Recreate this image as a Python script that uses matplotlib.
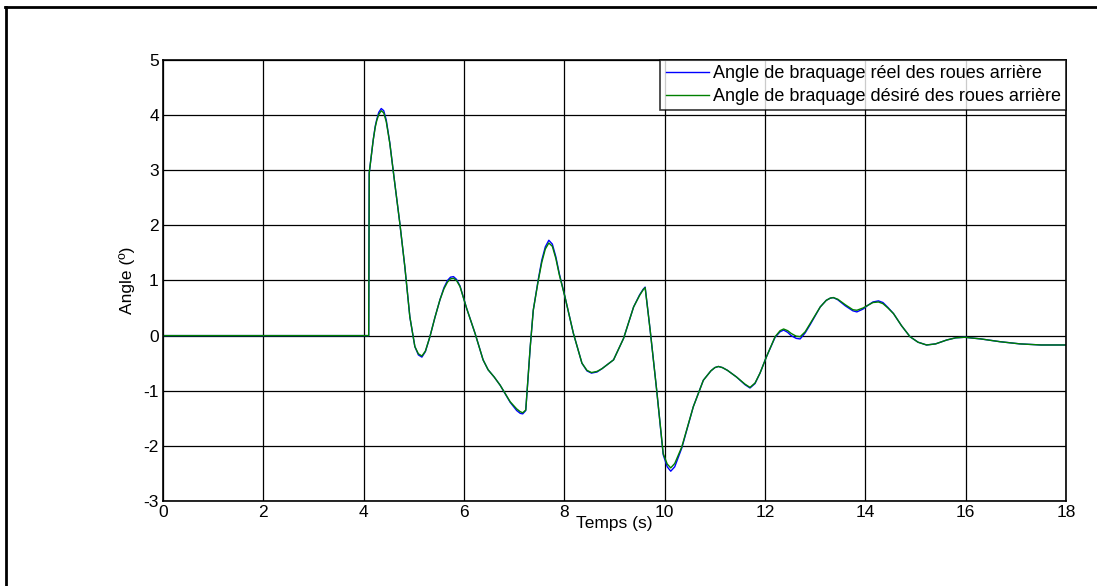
import numpy as np
import matplotlib
matplotlib.use('Agg')
import matplotlib.pyplot as plt
from matplotlib.lines import Line2D

# temps (s) et angles
t = [0, 4.10, 4.11, 4.15, 4.19, 4.23, 4.26, 4.30, 4.35, 4.40, 4.45, 4.52, 4.62, 4.72, 4.82,
     4.92, 5.02, 5.09, 5.16, 5.23, 5.32, 5.42, 5.52, 5.60, 5.67, 5.73, 5.79, 5.85, 5.92,
     6.05, 6.22, 6.38, 6.48, 6.60, 6.72, 6.92, 7.05, 7.12, 7.17, 7.23, 7.32, 7.38, 7.48,
     7.55, 7.62, 7.69, 7.76, 7.83, 7.90, 8.01, 8.18, 8.35, 8.45, 8.54, 8.65, 8.75, 8.98,
     9.18, 9.38, 9.50, 9.57, 9.61, 9.71, 9.84, 9.97, 10.05, 10.12, 10.20, 10.34, 10.57,
     10.77, 10.92, 11.00, 11.07, 11.15, 11.25, 11.43, 11.60, 11.70, 11.80, 11.90, 12.03,
     12.20, 12.30, 12.37, 12.45, 12.52, 12.62, 12.70, 12.80, 12.90, 13.10, 13.22, 13.30,
     13.36, 13.45, 13.60, 13.75, 13.83, 13.95, 14.05, 14.15, 14.26, 14.35, 14.45, 14.56,
     14.72, 14.89, 15.05, 15.22, 15.40, 15.62, 15.80, 15.98, 16.30, 16.68, 17.08, 17.50,
     18.0]

desire = [0, 0, 2.95, 3.25, 3.55, 3.78, 3.90, 4.01, 4.08, 4.04, 3.88, 3.49, 2.76, 2.04,
          1.25, 0.34, -0.20, -0.33, -0.37, -0.28, -0.02, 0.33, 0.65, 0.85, 0.97, 1.03, 1.04,
          1.00, 0.89, 0.50, 0.04, -0.44, -0.62, -0.75, -0.90, -1.20, -1.33, -1.38, -1.40,
          -1.35, -0.20, 0.46, 1.00, 1.33, 1.57, 1.68, 1.62, 1.40, 1.10, 0.71, 0.04, -0.50,
          -0.63, -0.67, -0.65, -0.60, -0.44, -0.05, 0.52, 0.73, 0.83, 0.87, 0.10, -0.99,
          -2.14, -2.33, -2.40, -2.32, -2.02, -1.29, -0.81, -0.64, -0.58, -0.56, -0.58, -0.63,
          -0.75, -0.88, -0.94, -0.86, -0.68, -0.38, -0.02, 0.09, 0.12, 0.09, 0.04, -0.01,
          -0.02, 0.07, 0.22, 0.52, 0.64, 0.68, 0.69, 0.66, 0.56, 0.47, 0.46, 0.50, 0.55,
          0.60, 0.61, 0.58, 0.50, 0.40, 0.18, -0.02, -0.12, -0.17, -0.15, -0.08, -0.04, -0.03,
          -0.06, -0.11, -0.15, -0.17, -0.17]

reel = [0, 0, 2.95, 3.25, 3.55, 3.80, 3.92, 4.05, 4.12, 4.08, 3.91, 3.50, 2.76, 2.04,
        1.25, 0.34, -0.20, -0.35, -0.39, -0.29, -0.02, 0.33, 0.65, 0.87, 1.00, 1.06, 1.07,
        1.02, 0.90, 0.50, 0.04, -0.44, -0.62, -0.75, -0.90, -1.21, -1.36, -1.41, -1.42,
        -1.36, -0.20, 0.46, 1.02, 1.37, 1.61, 1.73, 1.66, 1.43, 1.12, 0.71, 0.04, -0.50,
        -0.64, -0.68, -0.66, -0.60, -0.44, -0.05, 0.52, 0.74, 0.84, 0.88, 0.10, -0.99,
        -2.16, -2.38, -2.46, -2.38, -2.04, -1.29, -0.81, -0.64, -0.58, -0.56, -0.58, -0.63,
        -0.75, -0.89, -0.95, -0.87, -0.68, -0.38, -0.03, 0.07, 0.10, 0.06, 0.00, -0.05,
        -0.06, 0.05, 0.20, 0.52, 0.64, 0.68, 0.69, 0.65, 0.54, 0.45, 0.43, 0.48, 0.55,
        0.61, 0.63, 0.60, 0.51, 0.40, 0.18, -0.02, -0.12, -0.17, -0.15, -0.08, -0.04, -0.03,
        -0.06, -0.11, -0.15, -0.17, -0.17]

plt.rcParams['font.family'] = ['Liberation Sans', 'DejaVu Sans']
plt.rcParams['axes.unicode_minus'] = False

fig = plt.figure(figsize=(10.97, 5.86), dpi=100)
ax = fig.add_axes([0.1486, 0.1451, 0.8232, 0.7525])

ax.plot(t, reel, color='#0000ff', lw=1.0, label='Angle de braquage réel des roues arrière')
ax.plot(t, desire, color='#008000', lw=1.0, label='Angle de braquage désiré des roues arrière')

ax.set_xlim(0, 18)
ax.set_ylim(-3, 5)
ax.set_xticks(np.arange(0, 19, 2))
ax.set_yticks(np.arange(-3, 6, 1))
ax.grid(True, color='black', linestyle='-', linewidth=0.9)
ax.tick_params(direction='in', length=0, labelsize=12.5, pad=3)
for s in ax.spines.values():
    s.set_linewidth(1.2)

ax.set_xlabel('Temps (s)', fontsize=12.5, labelpad=-3)
ax.set_ylabel('Angle (º)', fontsize=12.5, labelpad=6)

leg = ax.legend(loc='upper right', fontsize=13, frameon=True, fancybox=False,
                borderaxespad=0, handlelength=2.4, handletextpad=0.2,
                borderpad=0.3, labelspacing=0.3)
leg.get_frame().set_edgecolor('black')
leg.get_frame().set_linewidth(1.2)

# cadre extérieur de la figure
fig.add_artist(Line2D([0.005, 1.0], [0.988, 0.988], color='black', lw=2))
fig.add_artist(Line2D([0.0055, 0.0055], [0.0, 0.988], color='black', lw=2))

fig.savefig('out.png', dpi=100)
